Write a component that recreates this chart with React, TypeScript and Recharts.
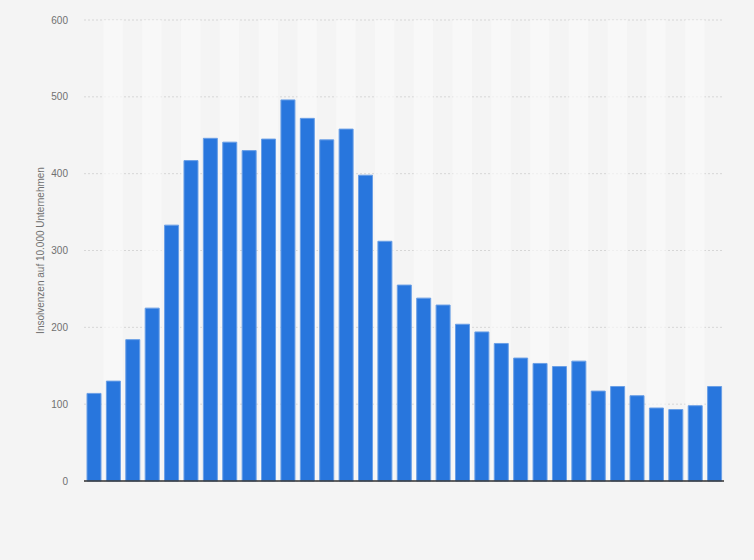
import React from 'react';
import { BarChart, Bar, XAxis, YAxis, CartesianGrid, ReferenceArea, ReferenceLine } from 'recharts';

const categories = [
  '1990','1991','1992','1993','1994','1995','1996','1997','1998','1999','2000',
  '2001','2002','2003','2004','2005','2006','2007','2008','2009','2010','2011',
  '2012','2013','2014','2015','2016','2017','2018','2019','2020','2021','2022',
];
const values = [
  114, 130, 184, 225, 333, 417, 446, 441, 430, 445, 496,
  472, 444, 458, 398, 312, 255, 238, 229, 204, 194, 179,
  160, 153, 149, 156, 117, 123, 111, 95, 93, 98, 123,
];
const yTicks = [0, 100, 200, 300, 400, 500, 600];
const yLabel = 'Insolvenzen auf 10.000 Unternehmen';

const data = categories.map((c, i) => ({ cat: c, value: values[i] }));

export default function App() {
  return (
    <div style={{ position: 'absolute', left: 0, top: 0, width: 754, height: 560, background: '#f4f4f4', fontFamily: 'Liberation Sans, Arial, sans-serif' }}>
      <BarChart width={754} height={560} data={data} margin={{ top: 20, right: 30, bottom: 79, left: 0 }} barCategoryGap={5}>
        {categories.map((c, i) =>
          i % 2 === 1 ? (
            <ReferenceArea key={c} x1={c} x2={c} y1={0} y2={600} fill="#fafafa" fillOpacity={0.7} stroke="none" ifOverflow="visible" />
          ) : null
        )}
        <CartesianGrid vertical={false} stroke="#d6d6d6" strokeDasharray="2 2" />
        <XAxis dataKey="cat" height={0} tick={false} tickLine={false} axisLine={false} />
        <YAxis
          width={84}
          domain={[0, 600]}
          ticks={yTicks}
          tickLine={false}
          axisLine={false}
          tickSize={0}
          tickMargin={16}
          tick={{ fill: '#707070', fontSize: 10 }}
          label={{ value: yLabel, angle: -90, position: 'insideLeft', offset: 40, style: { fill: '#707070', fontSize: 10, textAnchor: 'middle' } }}
        />
        <Bar dataKey="value" fill="#2876dd" stroke="#6a9fe6" strokeWidth={1} barSize={14} isAnimationActive={false} />
        <ReferenceLine y={0} stroke="#333333" strokeWidth={1.5} ifOverflow="visible" />
      </BarChart>
    </div>
  );
}
